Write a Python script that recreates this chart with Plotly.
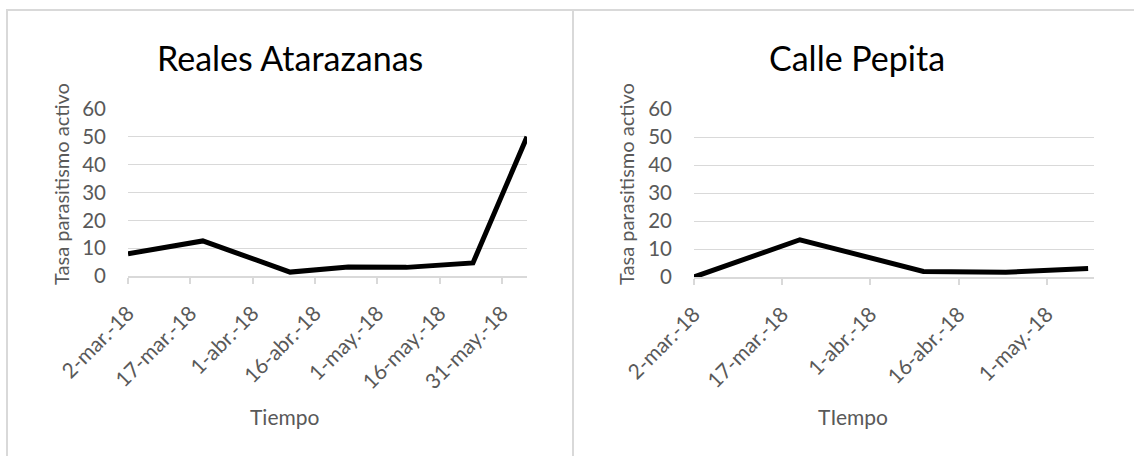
import plotly.graph_objects as go

# ---- data ----
dates_ra = ["2018-03-02", "2018-03-20", "2018-04-10", "2018-04-24", "2018-05-08", "2018-05-24", "2018-06-06"]
values_ra = [8.0, 12.6, 1.4, 3.2, 3.1, 4.7, 50.0]

dates_cp = ["2018-03-02", "2018-03-20", "2018-04-10", "2018-04-24", "2018-05-08"]
values_cp = [0.0, 13.3, 2.0, 1.7, 3.0]

tickvals_ra = ["2018-03-02", "2018-03-17", "2018-04-01", "2018-04-16", "2018-05-01", "2018-05-16", "2018-05-31"]
ticktext_ra = ["2-mar.-18", "17-mar.-18", "1-abr.-18", "16-abr.-18", "1-may.-18", "16-may.-18", "31-may.-18"]
tickvals_cp = ["2018-03-02", "2018-03-17", "2018-04-01", "2018-04-16", "2018-05-01"]
ticktext_cp = ["2-mar.-18", "17-mar.-18", "1-abr.-18", "16-abr.-18", "1-may.-18"]

titles = ["Reales Atarazanas", "Calle Pepita"]
xtitles = ["Tiempo", "TIempo"]
ytitle = "Tasa parasitismo activo"
yticks = [0, 10, 20, 30, 40, 50, 60]

W, H = 1134, 456
FONT = "Lato"
GRAY = "#595959"
GRID = "#d9d9d9"

def px(x):
    return x / W

def py(y):
    return 1 - y / H

fig = go.Figure()
fig.add_trace(go.Scatter(x=dates_ra, y=values_ra, mode="lines", xaxis="x", yaxis="y",
                         line=dict(color="black", width=5), showlegend=False, hoverinfo="skip"))
fig.add_trace(go.Scatter(x=dates_cp, y=values_cp, mode="lines", xaxis="x2", yaxis="y2",
                         line=dict(color="black", width=5), showlegend=False, hoverinfo="skip"))

common_x = dict(type="date", showgrid=False, showline=True, linecolor=GRID, linewidth=1.5,
                ticks="outside", ticklen=6, tickcolor=GRID, tickwidth=1.5, tickangle=-45,
                ticklabelstandoff=9,
                tickfont=dict(family=FONT, size=21, color=GRAY), zeroline=False, fixedrange=True,
                automargin=False)
common_y = dict(range=[0, 60], tickvals=yticks, showgrid=True, gridcolor=GRID, gridwidth=1.3,
                showline=False, zeroline=False, ticks="", ticklabelstandoff=21,
                tickfont=dict(family=FONT, size=20.5, color=GRAY), fixedrange=True,
                automargin=False)

fig.update_layout(
    width=W, height=H, margin=dict(l=0, r=0, t=0, b=0, autoexpand=False),
    paper_bgcolor="white", plot_bgcolor="white", showlegend=False,
    xaxis=dict(domain=[px(128), px(527)], range=[dates_ra[0], dates_ra[-1]],
               tickvals=tickvals_ra, ticktext=ticktext_ra, anchor="y", **common_x),
    yaxis=dict(domain=[py(276), py(109)], anchor="x", **common_y),
    xaxis2=dict(domain=[px(694), px(1094)], range=[dates_cp[0], "2018-05-09"],
                tickvals=tickvals_cp, ticktext=ticktext_cp, anchor="y2", **common_x),
    yaxis2=dict(domain=[py(277), py(109)], anchor="x2", **common_y),
)

# chart borders
for x0, x1 in [(7, 573), (573, 1150)]:
    fig.add_shape(type="rect", xref="paper", yref="paper", x0=px(x0), x1=px(x1), y0=py(470), y1=py(10),
                  line=dict(color=GRID, width=2), fillcolor="rgba(0,0,0,0)", layer="below")

annots = [
    dict(text=titles[0], x=px(290), y=py(57), font=dict(family=FONT, size=34, color="black")),
    dict(text=titles[1], x=px(857), y=py(57), font=dict(family=FONT, size=34, color="black")),
    dict(text=xtitles[0], x=px(285), y=py(416), font=dict(family=FONT, size=21, color=GRAY)),
    dict(text=xtitles[1], x=px(853), y=py(416), font=dict(family=FONT, size=21, color=GRAY)),
    dict(text=ytitle, x=px(61), y=py(184), textangle=-90, font=dict(family=FONT, size=20, color=GRAY)),
    dict(text=ytitle, x=px(626), y=py(184), textangle=-90, font=dict(family=FONT, size=20, color=GRAY)),
]
for a in annots:
    fig.add_annotation(xref="paper", yref="paper", showarrow=False, xanchor="center", yanchor="middle", **a)

fig.write_html("out.html", config={"displayModeBar": False},
               post_script="document.body.style.margin='0';document.body.style.overflow='hidden';")
